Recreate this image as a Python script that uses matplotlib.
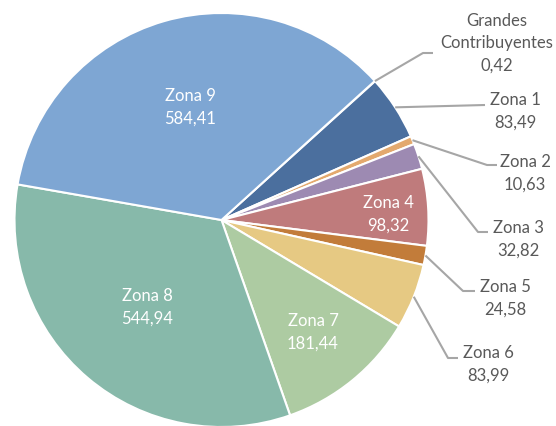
import matplotlib.pyplot as plt
import numpy as np

# data
labels = ['Grandes\nContribuyentes', 'Zona 1', 'Zona 2', 'Zona 3', 'Zona 4',
          'Zona 5', 'Zona 6', 'Zona 7', 'Zona 8', 'Zona 9']
values = [0.42, 83.49, 10.63, 32.82, 98.32, 24.58, 83.99, 181.44, 544.94, 584.41]
value_text = ['0,42', '83,49', '10,63', '32,82', '98,32', '24,58', '83,99',
              '181,44', '544,94', '584,41']
colors = ['#A5A5A5', '#4B6F9E', '#E3A96E', '#9D8AB2', '#BF7B7C', '#C27C3A',
          '#E6C983', '#ADCBA2', '#87B9AA', '#7EA6D3']

W, H = 556, 426
fig = plt.figure(figsize=(W / 100, H / 100), dpi=100)
ax = fig.add_axes([0, 0, 1, 1])

cx, cy, r = 221.5, H - 220, 207
start = 42.2

wedges, _ = ax.pie(values, colors=colors, startangle=start, counterclock=False,
                   center=(cx, cy), radius=r, frame=True,
                   wedgeprops=dict(edgecolor='white', linewidth=1.5))
ax.set_xlim(0, W)
ax.set_ylim(0, H)
ax.set_aspect('equal')
ax.axis('off')

font = 'Lato'
fs = 12
ls = 1.5

# inside labels (pixel positions of text centres)
inside = {4: (388, 214), 7: (313, 332), 8: (147, 307), 9: (190, 107)}
for i, (x, y) in inside.items():
    ax.text(x, H - y, labels[i] + '\n' + value_text[i], ha='center', va='center',
            color='white', fontsize=fs, family=font, linespacing=ls)

# outside labels: elbow point, line end, text centre (pixels)
outside = {
    0: ((423, 53), (433, 53), (497, 43)),
    1: ((485, 105), (485, 105), (515, 111)),
    2: ((487, 165), (497, 165), (525, 173)),
    3: ((478, 232), (488, 232), (518, 239)),
    5: ((463, 291), (475, 291), (505, 298)),
    6: ((448, 358), (458, 358), (488, 364)),
}
for i, (elbow, end, txt) in outside.items():
    w = wedges[i]
    mid = np.deg2rad((w.theta1 + w.theta2) / 2)
    sx = cx + r * np.cos(mid)
    sy = cy + r * np.sin(mid)
    ax.plot([sx, elbow[0], end[0]], [sy, H - elbow[1], H - end[1]],
            color='#A6A6A6', lw=1.5, solid_capstyle='butt')
    ax.text(txt[0], H - txt[1], labels[i] + '\n' + value_text[i], ha='center',
            va='center', color='#595959', fontsize=fs, family=font,
            linespacing=ls)

fig.savefig('out.png', dpi=100)
